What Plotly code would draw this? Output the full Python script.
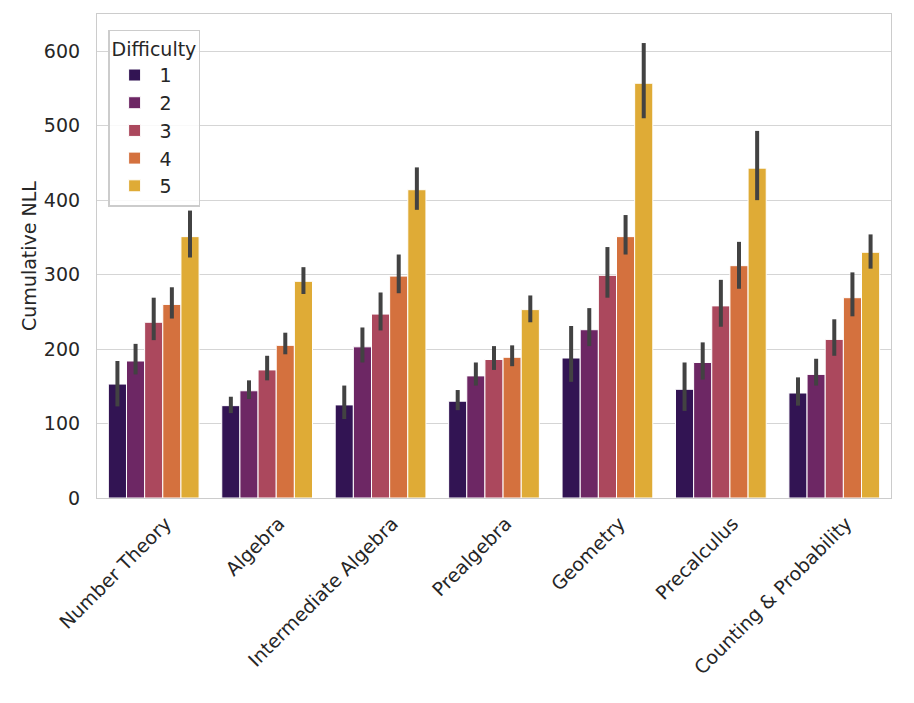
import plotly.graph_objects as go

categories = ["Number Theory", "Algebra", "Intermediate Algebra", "Prealgebra",
              "Geometry", "Precalculus", "Counting & Probability"]
difficulties = ["1", "2", "3", "4", "5"]

# mean values per difficulty (one list per difficulty, across categories)
means = {
    "1": [153, 124, 125, 130, 188, 146, 141],
    "2": [184, 144, 203, 164, 226, 182, 166],
    "3": [236, 172, 247, 186, 299, 258, 213],
    "4": [260, 205, 298, 189, 351, 312, 269],
    "5": [351, 291, 414, 253, 557, 443, 330],
}
ci_high = {
    "1": [184, 136, 151, 145, 231, 182, 162],
    "2": [207, 158, 229, 182, 255, 209, 187],
    "3": [269, 191, 276, 204, 337, 293, 240],
    "4": [283, 222, 327, 205, 380, 344, 303],
    "5": [386, 310, 444, 272, 611, 493, 354],
}
ci_low = {
    "1": [123, 114, 106, 118, 156, 117, 124],
    "2": [166, 133, 182, 151, 204, 159, 151],
    "3": [212, 158, 225, 172, 269, 230, 191],
    "4": [241, 193, 275, 177, 327, 281, 244],
    "5": [323, 274, 387, 236, 510, 400, 308],
}
colors = ["#321453", "#6d2764", "#ab485d", "#d4713e", "#dfab36"]

FS = 19

fig = go.Figure()
for d, c in zip(difficulties, colors):
    m = means[d]
    fig.add_trace(go.Bar(
        x=categories, y=m, name=d,
        marker=dict(color=c, line=dict(color="white", width=1)),
        error_y=dict(type="data", symmetric=False,
                     array=[h - v for h, v in zip(ci_high[d], m)],
                     arrayminus=[v - l for l, v in zip(ci_low[d], m)],
                     color="#424242", thickness=4, width=0),
    ))

fig.update_layout(
    width=914, height=703,
    margin=dict(l=89, r=31, t=6, b=213, autoexpand=False),
    paper_bgcolor="white", plot_bgcolor="white",
    barmode="group", bargap=0.2, bargroupgap=0,
    font=dict(family="DejaVu Sans", size=FS, color="#262626"),
    legend=dict(
        title=dict(text="Difficulty", font=dict(size=FS)),
        x=0.014, y=0.967, xanchor="left", yanchor="top",
        bgcolor="rgba(255,255,255,0.85)", bordercolor="#cccccc", borderwidth=1.5,
        font=dict(size=FS), tracegroupgap=0, itemwidth=40,
    ),
    showlegend=True,
)
fig.update_xaxes(
    showgrid=False, showline=True, linecolor="#cccccc", linewidth=1.2, mirror=True,
    tickangle=-45, ticks="", ticklabelstandoff=6, ticklabelshift=12,
    tickfont=dict(size=FS),
    range=[-0.5, 6.5],
)
fig.update_yaxes(
    title=dict(text="Cumulative NLL", font=dict(size=FS), standoff=2),
    range=[0, 650], tickvals=[0, 100, 200, 300, 400, 500, 600],
    showgrid=True, gridcolor="#d5d5d5", gridwidth=1.2,
    showline=True, linecolor="#cccccc", linewidth=1.2, mirror=True,
    zeroline=False, ticks="", ticklabelstandoff=12, tickfont=dict(size=FS),
)

fig.write_html("out.html")
